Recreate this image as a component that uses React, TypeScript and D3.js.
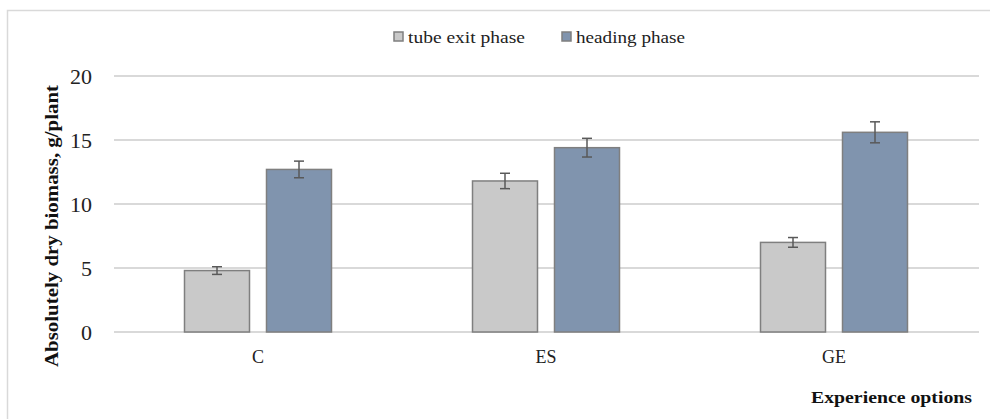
import React from "react";
import * as d3 from "d3";

const categories = ["C", "ES", "GE"];
const seriesNames = ["tube exit phase", "heading phase"];
const tubeExit = [4.8, 11.8, 7.0];
const heading = [12.7, 14.4, 15.6];
const tubeExitErr = [0.3, 0.6, 0.38];
const headingErr = [0.65, 0.73, 0.82];
const yTicks = [0, 5, 10, 15, 20];

const W = 990;
const H = 419;
const plotLeft = 114;
const plotRight = 978;
const plotTop = 76;
const plotBottom = 332;
const fills = ["#c9c9c9", "#8094ae"];
const font = "'Liberation Serif', 'Times New Roman', serif";

export default function App() {
  const x = d3.scaleBand<string>().domain(categories).range([plotLeft, plotRight]).paddingInner(0).paddingOuter(0);
  const y = d3.scaleLinear().domain([0, 20]).range([plotBottom, plotTop]);
  const barW = 65;
  const gap = 17;
  const series = [
    { vals: tubeExit, errs: tubeExitErr },
    { vals: heading, errs: headingErr },
  ];
  const legendPos = [394, 562];
  const legendLen = [117, 109];
  return (
    <svg width={W} height={H} style={{ position: "absolute", left: 0, top: 0 }} fontFamily={font}>
      <rect x={0} y={0} width={W} height={H} fill="#fff" />
      <path d={`M7.5,${H + 5} V10.5 H${W + 5}`} fill="none" stroke="#d9d9d9" strokeWidth={1.5} />
      {yTicks.map((t) => (
        <g key={t}>
          <line x1={plotLeft} x2={plotRight + 1} y1={y(t)} y2={y(t)} stroke="#d9d9d9" strokeWidth={2} />
          <text x={92} y={y(t) + 7.5} textAnchor="end" fontSize={22} fill="#222">
            {t}
          </text>
        </g>
      ))}
      {categories.map((c, i) => {
        const cx = (x(c) as number) + x.bandwidth() / 2;
        return (
          <g key={c}>
            {series.map((s, j) => {
              const bx = j === 0 ? cx - gap / 2 - barW : cx + gap / 2;
              const v = s.vals[i];
              const e = s.errs[i];
              const mx = bx + barW / 2;
              return (
                <g key={j}>
                  <rect x={bx} y={y(v)} width={barW} height={y(0) - y(v)} fill={fills[j]} stroke="#7f7f7f" strokeWidth={1.5} />
                  <line x1={mx} x2={mx} y1={y(v + e)} y2={y(v - e)} stroke="#595959" strokeWidth={1.5} />
                  <line x1={mx - 5} x2={mx + 5} y1={y(v + e)} y2={y(v + e)} stroke="#595959" strokeWidth={1.5} />
                  <line x1={mx - 5} x2={mx + 5} y1={y(v - e)} y2={y(v - e)} stroke="#595959" strokeWidth={1.5} />
                </g>
              );
            })}
            <text x={cx} y={363} textAnchor="middle" fontSize={18} fill="#222">
              {c}
            </text>
          </g>
        );
      })}
      {seriesNames.map((n, j) => {
        const lx = legendPos[j];
        return (
          <g key={n}>
            <rect x={lx} y={32} width={9} height={9} fill={fills[j]} stroke="#7f7f7f" strokeWidth={1.5} />
            <text x={lx + 14} y={43} fontSize={17} fill="#222" textLength={legendLen[j]} lengthAdjust="spacingAndGlyphs">
              {n}
            </text>
          </g>
        );
      })}
      <text x={811} y={403} fontSize={17.5} fontWeight="bold" fill="#111" textLength={161} lengthAdjust="spacingAndGlyphs">
        Experience options
      </text>
      <text
        transform={`translate(58,226) rotate(-90)`}
        textAnchor="middle"
        fontSize={18}
        fontWeight="bold"
        fill="#111"
        textLength={282}
        lengthAdjust="spacingAndGlyphs"
      >
        Absolutely dry biomass, g/plant
      </text>
    </svg>
  );
}
